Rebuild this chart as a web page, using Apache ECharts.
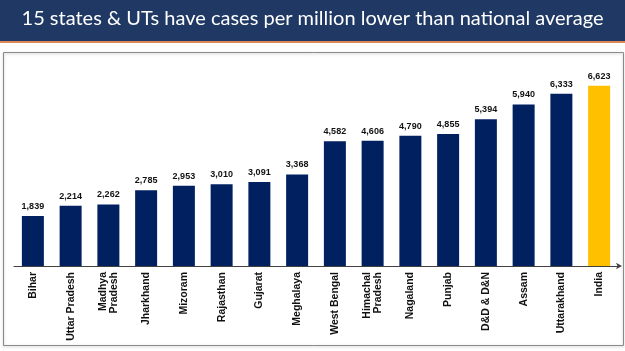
<!DOCTYPE html>
<html lang="en">
<head>
    <meta charset="UTF-8">
    <title>Cases per million</title>
    <style>
        html, body { margin: 0; padding: 0; background: #fff; }
        #chart { width: 625px; height: 351px; }
    </style>
</head>
<body>
    <div id="chart"></div>
</body>
<script src="https://cdn.jsdelivr.net/npm/echarts@6/dist/echarts.min.js"></script>
<script>
    var states = ['Bihar', 'Uttar Pradesh', 'Madhya\nPradesh', 'Jharkhand', 'Mizoram', 'Rajasthan', 'Gujarat',
        'Meghalaya', 'West Bengal', 'Himachal\nPradesh', 'Nagaland', 'Punjab', 'D&D & D&N', 'Assam', 'Uttarakhand', 'India'];
    var casesPerMillion = [1839, 2214, 2262, 2785, 2953, 3010, 3091, 3368, 4582, 4606, 4790, 4855, 5394, 5940, 6333, 6623];

    var navy = '#002060', gold = '#FFC000';

    var chart = echarts.init(document.getElementById('chart'));
    chart.setOption({
        animation: false,
        graphic: [
            // title band
            { type: 'rect', left: 0, top: 0, shape: { width: 625, height: 41 }, style: { fill: '#1F3864' } },
            { type: 'rect', left: 0, top: 41, shape: { width: 625, height: 2 }, style: { fill: '#E0875A' } },
            {
                type: 'text', left: 'center', top: 9,
                style: { text: '15 states & UTs have cases per million lower than national average', fill: '#fff', font: '20px Lato' }
            },
            // chart frame
            {
                type: 'rect', left: 1, top: 50, shape: { width: 620, height: 293 },
                style: { fill: 'none', stroke: '#8a8a8a', lineWidth: 1, shadowColor: 'rgba(0,0,0,0.25)', shadowBlur: 3, shadowOffsetY: 1 }
            }
        ],
        grid: { left: 14, right: 7, top: 62, bottom: 85 },
        xAxis: {
            type: 'category',
            data: states,
            axisLine: { lineStyle: { color: '#404040', width: 1 }, symbol: ['none', 'arrow'], symbolSize: [5, 6], symbolOffset: [0, 4] },
            axisTick: { show: false },
            axisLabel: {
                rotate: 90, interval: 0, color: '#111', fontFamily: 'Liberation Sans', fontWeight: 'bold',
                fontSize: 10.5, lineHeight: 11, margin: 6, align: 'right'
            }
        },
        yAxis: { type: 'value', min: 0, max: 7500, show: false, splitLine: { show: false } },
        series: [{
            type: 'bar',
            barWidth: 22,
            data: casesPerMillion.map(function (v, i) {
                return { value: v, itemStyle: { color: i === states.length - 1 ? gold : navy } };
            }),
            label: {
                show: true, position: 'top', distance: 5, color: '#111', fontWeight: 'bold', fontSize: 9,
                fontFamily: 'Liberation Sans',
                formatter: function (p) { return p.value.toLocaleString('en-US'); }
            }
        }]
    });
</script>
</html>
